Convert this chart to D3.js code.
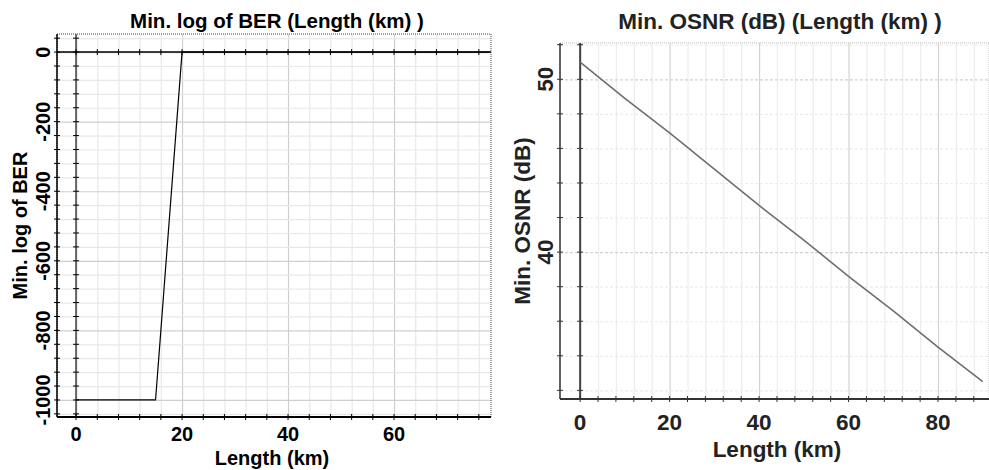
<!DOCTYPE html>
<html>
<head>
<meta charset="utf-8">
<script src="https://cdn.jsdelivr.net/npm/d3@7"></script>
<style>
  body { margin: 0; background: #fff; }
  text { font-family: "Liberation Sans", Arial, sans-serif; font-weight: bold; }
</style>
</head>
<body>
<div id="chart"></div>
<script>
// left panel: Min. log of BER vs length
const berLength = [0, 5, 10, 15, 20, 25, 30, 35, 40, 45, 50, 55, 60, 65, 70, 75, 78];
const berValue = [-1000, -1000, -1000, -1000, 0, 0, 0, 0, 0, 0, 0, 0, 0, 0, 0, 0, 0];
const berXTicks = [0, 20, 40, 60];
const berYTicks = [0, -200, -400, -600, -800, -1000];

// right panel: Min. OSNR vs length
const osnrLength = [0, 10, 20, 30, 40, 50, 60, 70, 80, 90];
const osnrValue = [51.0, 48.9, 46.9, 44.8, 42.7, 40.7, 38.6, 36.6, 34.5, 32.5];
const osnrXTicks = [0, 20, 40, 60, 80];
const osnrYTicks = [40, 50];

const svg = d3.select("#chart").append("svg")
    .attr("width", 989)
    .attr("height", 470);

function drawPanel(p) {
  const g = svg.append("g");
  const x = d3.scaleLinear().domain(p.xDomain).range([p.left, p.right]);
  const y = d3.scaleLinear().domain(p.yDomain).range([p.bottom, p.top]);
  const h = p.bottom - p.top;
  const w = p.right - p.left;

  // minor grid
  const xMinor = d3.range(0, p.xDomain[1], p.xMinorStep);
  const yMinor = d3.range(Math.ceil(p.yDomain[0] / p.yMinorStep) * p.yMinorStep, p.yDomain[1], p.yMinorStep);

  g.append("g")
      .attr("transform", "translate(0," + p.top + ")")
      .call(d3.axisTop(x).tickValues(xMinor).tickSize(-h).tickFormat(""))
      .call(s => s.select(".domain").remove())
      .selectAll("line")
      .attr("stroke", d => d % p.xMajorStep === 0 ? p.majorGrid : p.minorGrid)
      .attr("stroke-width", 1.2);

  g.append("g")
      .attr("transform", "translate(" + p.left + ",0)")
      .call(d3.axisLeft(y).tickValues(yMinor).tickSize(-w).tickFormat(""))
      .call(s => s.select(".domain").remove())
      .selectAll("line")
      .attr("stroke", d => Math.abs(d % p.yMajorStep) < 1e-6 ? p.majorGrid : p.minorGrid)
      .attr("stroke-width", 1.2)
      .attr("stroke-dasharray", p.hDash);

  // dotted frame
  g.append("rect")
      .attr("x", p.left).attr("y", p.top)
      .attr("width", w).attr("height", h)
      .attr("fill", "none")
      .attr("stroke", p.frame)
      .attr("stroke-dasharray", "1,1");

  // vertical line at x = 0
  g.append("line")
      .attr("x1", x(0)).attr("x2", x(0))
      .attr("y1", p.top).attr("y2", p.bottom)
      .attr("stroke", p.zeroColor).attr("stroke-width", 2);

  // left axis line
  g.append("line")
      .attr("x1", p.left).attr("x2", p.left)
      .attr("y1", p.top).attr("y2", p.bottom)
      .attr("stroke", p.axisColor).attr("stroke-width", 1.5);

  // horizontal axis lines (bottom, plus zero line if inside)
  p.hAxes.forEach(v => {
    const yy = v === null ? p.bottom : y(v);
    g.append("line")
        .attr("x1", p.left).attr("x2", p.right)
        .attr("y1", yy).attr("y2", yy)
        .attr("stroke", p.axisColor).attr("stroke-width", v === null ? 2 : 1.5);
    g.selectAll(null).data(xMinor).enter().append("line")
        .attr("x1", d => x(d)).attr("x2", d => x(d))
        .attr("y1", yy - 3).attr("y2", yy + 3)
        .attr("stroke", p.axisColor);
  });

  // tick marks on both vertical lines
  [p.left, x(0)].forEach(xx => {
    g.selectAll(null).data(yMinor).enter().append("line")
        .attr("x1", xx - 3).attr("x2", xx + 3)
        .attr("y1", d => y(d)).attr("y2", d => y(d))
        .attr("stroke", p.axisColor);
  });

  // data line
  const line = d3.line().x(d => x(d[0])).y(d => y(d[1]));
  g.append("path")
      .datum(d3.zip(p.xs, p.ys))
      .attr("d", line)
      .attr("fill", "none")
      .attr("stroke", p.lineColor)
      .attr("stroke-width", p.lineWidth);

  // x tick labels
  g.selectAll(null).data(p.xTicks).enter().append("text")
      .attr("x", d => x(d))
      .attr("y", p.xLabelY)
      .attr("text-anchor", "middle")
      .attr("fill", p.textColor)
      .style("font-size", p.fontSize + "px")
      .text(d => d);

  // y tick labels (rotated)
  g.selectAll(null).data(p.yTicks).enter().append("text")
      .attr("transform", d => "translate(" + p.yLabelX + "," + y(d) + ") rotate(-90)")
      .attr("text-anchor", "middle")
      .attr("fill", p.textColor)
      .style("font-size", p.fontSize + "px")
      .text(d => d);

  // axis titles
  g.append("text")
      .attr("x", p.xTitleX).attr("y", p.xTitleY)
      .attr("text-anchor", "middle")
      .attr("fill", p.textColor)
      .style("font-size", p.fontSize + "px")
      .text(p.xTitle);

  g.append("text")
      .attr("transform", "translate(" + p.yTitleX + "," + (p.top + p.bottom) / 2 + ") rotate(-90)")
      .attr("text-anchor", "middle")
      .attr("fill", p.textColor)
      .style("font-size", p.fontSize + "px")
      .text(p.yTitle);

  g.append("text")
      .attr("x", p.titleX).attr("y", p.titleY)
      .attr("text-anchor", "middle")
      .attr("fill", p.textColor)
      .style("font-size", p.titleSize + "px")
      .text(p.title);
}

drawPanel({
  xs: berLength, ys: berValue,
  xDomain: [-3.6, 78.3], yDomain: [-1049, 52],
  left: 57, right: 491, top: 34, bottom: 417,
  xMinorStep: 4, xMajorStep: 20, yMinorStep: 40, yMajorStep: 200,
  majorGrid: "#cfcfcf", minorGrid: "#e8e8e8", hDash: null,
  frame: "#444", zeroColor: "#666", axisColor: "#000",
  hAxes: [0, null],
  lineColor: "#000", lineWidth: 1.2,
  xTicks: berXTicks, yTicks: berYTicks,
  xLabelY: 441, yLabelX: 50,
  xTitle: "Length (km)", xTitleX: 272, xTitleY: 465,
  yTitle: "Min. log of BER", yTitleX: 27,
  title: "Min. log of BER (Length (km) )", titleX: 277, titleY: 28,
  fontSize: 20, titleSize: 20.5, textColor: "#000"
});

drawPanel({
  xs: osnrLength, ys: osnrValue,
  xDomain: [-4.5, 91.4], yDomain: [31.5, 52.1],
  left: 560, right: 989, top: 43, bottom: 399,
  xMinorStep: 4, xMajorStep: 20, yMinorStep: 2, yMajorStep: 10,
  majorGrid: "#d2d2d2", minorGrid: "#ececec", hDash: "3,2",
  frame: "#bbb", zeroColor: "#444", axisColor: "#333",
  hAxes: [null],
  lineColor: "#6e6e6e", lineWidth: 1.6,
  xTicks: osnrXTicks, yTicks: osnrYTicks,
  xLabelY: 430, yLabelX: 553,
  xTitle: "Length (km)", xTitleX: 777, xTitleY: 457,
  yTitle: "Min. OSNR (dB)", yTitleX: 530,
  title: "Min. OSNR (dB) (Length (km) )", titleX: 780, titleY: 29,
  fontSize: 22.5, titleSize: 22.5, textColor: "#222"
});
</script>
</body>
</html>
